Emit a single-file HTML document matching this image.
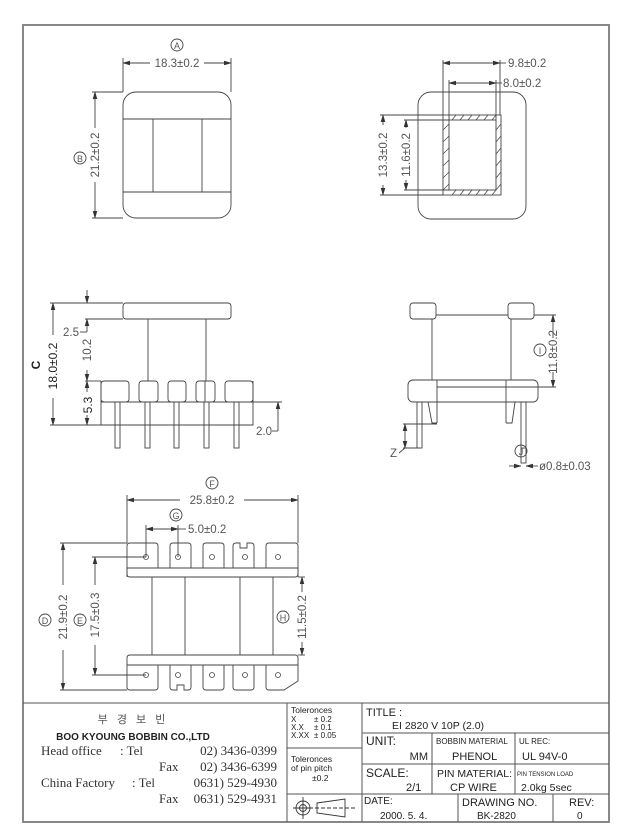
<!DOCTYPE html>
<html><head><meta charset="utf-8"><style>
html,body{margin:0;padding:0;background:#fff}
svg{display:block;font-family:"Liberation Sans",sans-serif}
.lb{fill:#555;font-family:"Liberation Sans",sans-serif}
.tb{fill:#222;font-family:"Liberation Sans",sans-serif}
.sf{fill:#333;font-family:"Liberation Serif",serif}
</style></head><body>
<svg width="632" height="839" viewBox="0 0 632 839" xmlns="http://www.w3.org/2000/svg">
<defs>
<marker id="a" markerWidth="8" markerHeight="6" refX="7" refY="3" orient="auto-start-reverse" markerUnits="userSpaceOnUse"><path d="M0,1 L7,3 L0,5" fill="#333" stroke="#333" stroke-width="0.5"/></marker>
</defs>
<g fill="none" stroke="#888" stroke-width="2">
<rect x="23" y="25" width="586" height="797"/>
</g>
<g fill="none" stroke="#555" stroke-width="1">
<line x1="23" y1="703" x2="609" y2="703"/>
<line x1="287" y1="703" x2="287" y2="822"/>
<line x1="362" y1="703" x2="362" y2="822"/>
<line x1="287" y1="748" x2="362" y2="748"/>
<line x1="287" y1="794" x2="609" y2="794"/>
<line x1="362" y1="733" x2="609" y2="733"/>
<line x1="362" y1="764" x2="609" y2="764"/>
<line x1="432" y1="733" x2="432" y2="794"/>
<line x1="515" y1="733" x2="515" y2="794"/>
<line x1="458" y1="794" x2="458" y2="822"/>
<line x1="553" y1="794" x2="553" y2="822"/>
</g>
<g stroke="#333" stroke-width="0.9" fill="none">
<circle cx="303" cy="808" r="7"/><circle cx="303" cy="808" r="3.5"/>
<line x1="293" y1="808" x2="313" y2="808"/><line x1="303" y1="797" x2="303" y2="819"/>
<path d="M317,803 L345,799 L345,817 L317,813 Z"/>
<line x1="315" y1="808" x2="356" y2="808" stroke-dasharray="4,2"/>
</g>
<text x="133" y="723" text-anchor="middle" font-size="11" letter-spacing="3" style="fill:#555;font-family:'Liberation Sans','Noto Sans CJK KR',sans-serif">부 경 보 빈</text>
<text x="133" y="740" text-anchor="middle" class="tb" font-size="10" font-weight="bold">BOO KYOUNG BOBBIN CO.,LTD</text>
<g font-size="13">
<text x="41" y="755" class="sf">Head office</text>
<text x="120" y="755" class="sf">: Tel</text>
<text x="277" y="755" class="sf" text-anchor="end">02) 3436-0399</text>
<text x="159" y="771" class="sf">Fax</text>
<text x="277" y="771" class="sf" text-anchor="end">02) 3436-6399</text>
<text x="41" y="787" class="sf">China Factory</text>
<text x="132" y="787" class="sf">: Tel</text>
<text x="277" y="787" class="sf" text-anchor="end">0631) 529-4930</text>
<text x="159" y="803" class="sf">Fax</text>
<text x="277" y="803" class="sf" text-anchor="end">0631) 529-4931</text>
</g>
<g font-size="8.5">
<text class="tb" x="291" y="713">Toleronces</text>
<text class="tb" x="291" y="722" font-size="8">X</text><text class="tb" x="314" y="722" font-size="8">± 0.2</text>
<text class="tb" x="291" y="730" font-size="8">X.X</text><text class="tb" x="314" y="730" font-size="8">± 0.1</text>
<text class="tb" x="291" y="738" font-size="8">X.XX</text><text class="tb" x="314" y="738" font-size="8">± 0.05</text>
<text class="tb" x="291" y="762">Toleronces</text>
<text class="tb" x="291" y="771">of pin pitch</text>
<text class="tb" x="312" y="781">±0.2</text>
</g>
<text class="tb" x="366" y="716" font-size="11">TITLE :</text>
<text class="tb" x="392" y="729" font-size="10.5">EI 2820 V 10P (2.0)</text>
<text class="tb" x="366" y="745" font-size="12">UNIT:</text>
<text class="tb" x="428" y="760" font-size="11" text-anchor="end">MM</text>
<text class="tb" x="436" y="744" font-size="8">BOBBIN MATERIAL</text>
<text class="tb" x="452" y="760" font-size="11">PHENOL</text>
<text class="tb" x="519" y="744" font-size="8">UL REC:</text>
<text class="tb" x="522" y="760" font-size="11">UL 94V-0</text>
<text class="tb" x="366" y="777" font-size="12">SCALE:</text>
<text class="tb" x="406" y="791" font-size="11">2/1</text>
<text class="tb" x="437" y="777" font-size="10.5">PIN MATERIAL:</text>
<text class="tb" x="450" y="791" font-size="11">CP WIRE</text>
<text class="tb" x="517" y="776" font-size="6">PIN TENSION LOAD</text>
<text class="tb" x="521" y="791" font-size="10.5">2.0kg 5sec</text>
<text class="tb" x="364" y="804" font-size="10">DATE:</text>
<text class="tb" x="380" y="819" font-size="10">2000. 5. 4.</text>
<text class="tb" x="462" y="806" font-size="11">DRAWING NO.</text>
<text class="tb" x="477" y="819" font-size="10">BK-2820</text>
<text class="tb" x="569" y="806" font-size="11">REV:</text>
<text class="tb" x="577" y="819" font-size="10">0</text>

<g stroke="#444" stroke-width="0.9" fill="none">
<rect x="123" y="92" width="108" height="126" rx="13"/>
<line x1="123" y1="119" x2="231" y2="119"/><line x1="123" y1="192" x2="231" y2="192"/>
<line x1="153" y1="119" x2="153" y2="192"/><line x1="202" y1="119" x2="202" y2="192"/>
<line x1="123" y1="58" x2="123" y2="92"/><line x1="231" y1="58" x2="231" y2="92"/>
<line x1="123" y1="63" x2="150" y2="63" marker-start="url(#a)"/><line x1="204" y1="63" x2="231" y2="63" marker-end="url(#a)"/>
<line x1="92" y1="92" x2="123" y2="92"/><line x1="92" y1="218" x2="123" y2="218"/>
<line x1="95" y1="92" x2="95" y2="128" marker-start="url(#a)"/><line x1="95" y1="182" x2="95" y2="218" marker-end="url(#a)"/>
<circle cx="177" cy="45" r="6"/><circle cx="80" cy="158" r="6"/>

<rect x="418" y="92" width="108" height="127" rx="13"/>
<rect x="443" y="115" width="58" height="80"/>
<rect x="449" y="120" width="47" height="70"/>
<g stroke-width="0.7">
<path d="M452,120 l4,-5 M460,120 l4,-5 M468,120 l4,-5 M476,120 l4,-5 M484,120 l4,-5 M492,120 l4,-5"/>
<path d="M452,195 l4,-5 M460,195 l4,-5 M468,195 l4,-5 M476,195 l4,-5 M484,195 l4,-5 M492,195 l4,-5"/>
<path d="M443,130 l6,-6 M443,142 l6,-6 M443,154 l6,-6 M443,166 l6,-6 M443,178 l6,-6 M443,190 l6,-6"/>
<path d="M496,130 l5,-6 M496,142 l5,-6 M496,154 l5,-6 M496,166 l5,-6 M496,178 l5,-6 M496,190 l5,-6"/>
</g>
<line x1="443" y1="60" x2="443" y2="115"/><line x1="500" y1="60" x2="500" y2="115"/>
<line x1="449" y1="80" x2="449" y2="120"/><line x1="496" y1="80" x2="496" y2="120"/>
<line x1="443" y1="63" x2="500" y2="63" marker-start="url(#a)" marker-end="url(#a)"/><line x1="500" y1="63" x2="506" y2="63"/>
<line x1="449" y1="83" x2="496" y2="83" marker-start="url(#a)" marker-end="url(#a)"/><line x1="496" y1="83" x2="502" y2="83"/>
<line x1="380" y1="115" x2="443" y2="115"/><line x1="380" y1="195" x2="443" y2="195"/>
<line x1="383" y1="115" x2="383" y2="125" marker-start="url(#a)"/><line x1="383" y1="185" x2="383" y2="195" marker-end="url(#a)"/>
<line x1="404" y1="120" x2="449" y2="120"/><line x1="404" y1="190" x2="449" y2="190"/>
<line x1="406" y1="120" x2="406" y2="128" marker-start="url(#a)"/><line x1="406" y1="180" x2="406" y2="190" marker-end="url(#a)"/>

<rect x="123" y="303" width="108" height="16" rx="3"/>
<line x1="148" y1="319" x2="148" y2="381"/><line x1="206" y1="319" x2="206" y2="381"/>
<rect x="101" y="381" width="28" height="21" rx="3"/>
<rect x="139" y="381" width="19" height="21" rx="3"/>
<rect x="168" y="381" width="18" height="21" rx="3"/>
<rect x="196" y="381" width="19" height="21" rx="3"/>
<line x1="205" y1="381" x2="205" y2="402"/>
<rect x="225" y="381" width="28" height="21" rx="3"/>
<path d="M101,381 L101,425 L253,425 L253,381"/>
<line x1="101" y1="402" x2="253" y2="402"/>
<rect x="115" y="402" width="5" height="46"/>
<rect x="145" y="402" width="5" height="46"/>
<rect x="174" y="402" width="5" height="46"/>
<rect x="204" y="402" width="5" height="46"/>
<rect x="234" y="402" width="5" height="46"/>
<line x1="50" y1="303" x2="123" y2="303"/><line x1="50" y1="425" x2="101" y2="425"/>
<line x1="85" y1="319" x2="123" y2="319"/><line x1="85" y1="381" x2="101" y2="381"/>
<line x1="53" y1="303" x2="53" y2="335" marker-start="url(#a)"/><line x1="53" y1="398" x2="53" y2="425" marker-end="url(#a)"/>
<line x1="87" y1="290" x2="87" y2="303" marker-end="url(#a)"/>
<line x1="87" y1="319" x2="87" y2="332" marker-start="url(#a)"/>
<line x1="80" y1="332" x2="87" y2="332"/>
<line x1="87" y1="370" x2="87" y2="381" marker-end="url(#a)"/>
<line x1="87" y1="381" x2="87" y2="392" marker-start="url(#a)"/>
<line x1="87" y1="415" x2="87" y2="425" marker-end="url(#a)"/>
<line x1="253" y1="402" x2="282" y2="402"/>
<line x1="278" y1="402" x2="278" y2="413" marker-start="url(#a)"/>
<line x1="278" y1="413" x2="278" y2="431"/>
<line x1="272" y1="431" x2="278" y2="431"/>

<rect x="410" y="303" width="26" height="16" rx="3"/>
<rect x="508" y="303" width="26" height="16" rx="3"/>
<line x1="436" y1="315" x2="508" y2="315"/>
<line x1="534" y1="315" x2="556" y2="315"/>
<line x1="432" y1="319" x2="432" y2="380"/><line x1="511" y1="319" x2="511" y2="380"/>
<rect x="408" y="380" width="130" height="22" rx="5"/>
<line x1="437" y1="387" x2="538" y2="387"/><line x1="538" y1="387" x2="556" y2="387"/>
<line x1="437" y1="380" x2="437" y2="423"/>
<path d="M428,402 L432,423 L437,423"/>
<line x1="506" y1="380" x2="506" y2="423"/>
<path d="M515,402 L512,423 L506,423"/>
<rect x="417" y="402" width="5" height="46"/>
<rect x="521" y="402" width="5" height="61"/>
<line x1="521" y1="448" x2="526" y2="448"/>
<line x1="553" y1="315" x2="553" y2="338" marker-start="url(#a)"/><line x1="553" y1="372" x2="553" y2="387" marker-end="url(#a)"/>
<circle cx="540" cy="350" r="6"/>
<line x1="403" y1="424" x2="437" y2="424"/><line x1="403" y1="448" x2="420" y2="448"/>
<line x1="405" y1="424" x2="405" y2="448" marker-start="url(#a)" marker-end="url(#a)"/>
<line x1="399" y1="453" x2="405" y2="448"/>
<line x1="509" y1="466" x2="521" y2="466" marker-end="url(#a)"/>
<line x1="538" y1="466" x2="526" y2="466" marker-end="url(#a)"/>
<circle cx="521" cy="451" r="6"/>

<line x1="127" y1="495" x2="127" y2="543"/><line x1="298" y1="495" x2="298" y2="543"/>
<line x1="127" y1="500" x2="180" y2="500" marker-start="url(#a)"/><line x1="244" y1="500" x2="298" y2="500" marker-end="url(#a)"/>
<line x1="146" y1="525" x2="146" y2="557"/><line x1="178" y1="525" x2="178" y2="557"/>
<line x1="146" y1="529" x2="178" y2="529" marker-start="url(#a)" marker-end="url(#a)"/><line x1="178" y1="529" x2="186" y2="529"/>
<circle cx="212" cy="483" r="6"/><circle cx="176" cy="515" r="6"/>
<path d="M127,577 L127,546 Q127,543 130,543 L155,543 Q158,543 158,546 L158,568"/>
<path d="M170,568 L170,546 Q170,543 173,543 L188,543 Q191,543 191,546 L191,568"/>
<path d="M203,568 L203,546 Q203,543 206,543 L221,543 Q224,543 224,546 L224,568"/>
<path d="M233,568 L233,546 Q233,543 236,543 L240,543 L240,548 L247,548 L247,543 L251,543 Q254,543 254,546 L254,568"/>
<path d="M266,568 L266,546 Q266,543 269,543 L295,543 Q298,543 298,546 L298,577"/>
<path d="M127,568 L298,568 L298,574 Q298,577 295,577 L130,577 Q127,577 127,574 Z"/>
<line x1="152" y1="577" x2="152" y2="655"/><line x1="185" y1="577" x2="185" y2="655"/>
<line x1="240" y1="577" x2="240" y2="655"/><line x1="273" y1="577" x2="273" y2="655"/>
<path d="M130,655 L295,655 Q298,655 298,658 L298,665 L127,665 L127,658 Q127,655 130,655 Z"/>
<path d="M127,665 L127,687 Q127,690 130,690 L155,690 Q158,690 158,687 L158,665"/>
<path d="M170,665 L170,687 Q170,690 173,690 L177,690 L177,685 L184,685 L184,690 L188,690 Q191,690 191,687 L191,665"/>
<path d="M203,665 L203,687 Q203,690 206,690 L221,690 Q224,690 224,687 L224,665"/>
<path d="M233,665 L233,687 Q233,690 236,690 L251,690 Q254,690 254,687 L254,665"/>
<path d="M266,665 L266,687 Q266,690 269,690 L284,690 L298,681 L298,665"/>
<g stroke-width="0.8">
<circle cx="146" cy="557" r="2.5"/><circle cx="178" cy="557" r="2.5"/><circle cx="212" cy="557" r="2.5"/><circle cx="245" cy="557" r="2.5"/><circle cx="278" cy="557" r="2.5"/>
<circle cx="146" cy="675" r="2.5"/><circle cx="178" cy="675" r="2.5"/><circle cx="212" cy="675" r="2.5"/><circle cx="245" cy="675" r="2.5"/><circle cx="278" cy="675" r="2.5"/>
</g>
<line x1="60" y1="543" x2="127" y2="543"/><line x1="60" y1="690" x2="127" y2="690"/>
<line x1="63" y1="543" x2="63" y2="585" marker-start="url(#a)"/><line x1="63" y1="650" x2="63" y2="690" marker-end="url(#a)"/>
<line x1="92" y1="557" x2="146" y2="557"/><line x1="92" y1="675" x2="146" y2="675"/>
<line x1="95" y1="557" x2="95" y2="585" marker-start="url(#a)"/><line x1="95" y1="645" x2="95" y2="675" marker-end="url(#a)"/>
<line x1="298" y1="577" x2="305" y2="577"/><line x1="298" y1="655" x2="305" y2="655"/>
<line x1="302" y1="577" x2="302" y2="592" marker-start="url(#a)"/><line x1="302" y1="642" x2="302" y2="655" marker-end="url(#a)"/>
<circle cx="45" cy="620" r="6"/><circle cx="80" cy="620" r="6"/><circle cx="283" cy="617" r="6"/>
</g>

<g font-size="11.5">
<text class="lb" x="177" y="49" text-anchor="middle" font-size="9">A</text>
<text class="lb" x="177" y="67" text-anchor="middle">18.3±0.2</text>
<text class="lb" x="80" y="162" text-anchor="middle" font-size="9">B</text>
<text class="lb" transform="translate(99,155) rotate(-90)" text-anchor="middle">21.2±0.2</text>
<text class="lb" x="508" y="67">9.8±0.2</text>
<text class="lb" x="503" y="87">8.0±0.2</text>
<text class="lb" transform="translate(387,155) rotate(-90)" text-anchor="middle">13.3±0.2</text>
<text class="lb" transform="translate(410,155) rotate(-90)" text-anchor="middle">11.6±0.2</text>
<text class="tb" transform="translate(40,365) rotate(-90)" text-anchor="middle" font-weight="bold" font-size="12">C</text>
<text class="tb" transform="translate(57,366) rotate(-90)" text-anchor="middle" font-size="12">18.0±0.2</text>
<text class="lb" x="79" y="336" text-anchor="end">2.5</text>
<text class="lb" transform="translate(91,350) rotate(-90)" text-anchor="middle">10.2</text>
<text class="tb" transform="translate(92,405) rotate(-90)" text-anchor="middle" font-size="12">5.3</text>
<text class="lb" x="256" y="435">2.0</text>
<text class="lb" x="540" y="354" text-anchor="middle" font-size="9">I</text>
<text class="lb" transform="translate(557,352) rotate(-90)" text-anchor="middle">11.8±0.2</text>
<text class="lb" x="390" y="457">Z</text>
<text class="lb" x="521" y="455" text-anchor="middle" font-size="9">J</text>
<text class="lb" x="539" y="470">ø0.8±0.03</text>
<text class="lb" x="212" y="487" text-anchor="middle" font-size="9">F</text>
<text class="lb" x="212" y="504" text-anchor="middle">25.8±0.2</text>
<text class="lb" x="176" y="519" text-anchor="middle" font-size="9">G</text>
<text class="lb" x="188" y="533">5.0±0.2</text>
<text class="lb" x="45" y="624" text-anchor="middle" font-size="9">D</text>
<text class="lb" transform="translate(67,617) rotate(-90)" text-anchor="middle">21.9±0.2</text>
<text class="lb" x="80" y="624" text-anchor="middle" font-size="9">E</text>
<text class="lb" transform="translate(99,615) rotate(-90)" text-anchor="middle">17.5±0.3</text>
<text class="lb" x="283" y="621" text-anchor="middle" font-size="9">H</text>
<text class="lb" transform="translate(306,617) rotate(-90)" text-anchor="middle">11.5±0.2</text>
</g>
</svg>
</body></html>
